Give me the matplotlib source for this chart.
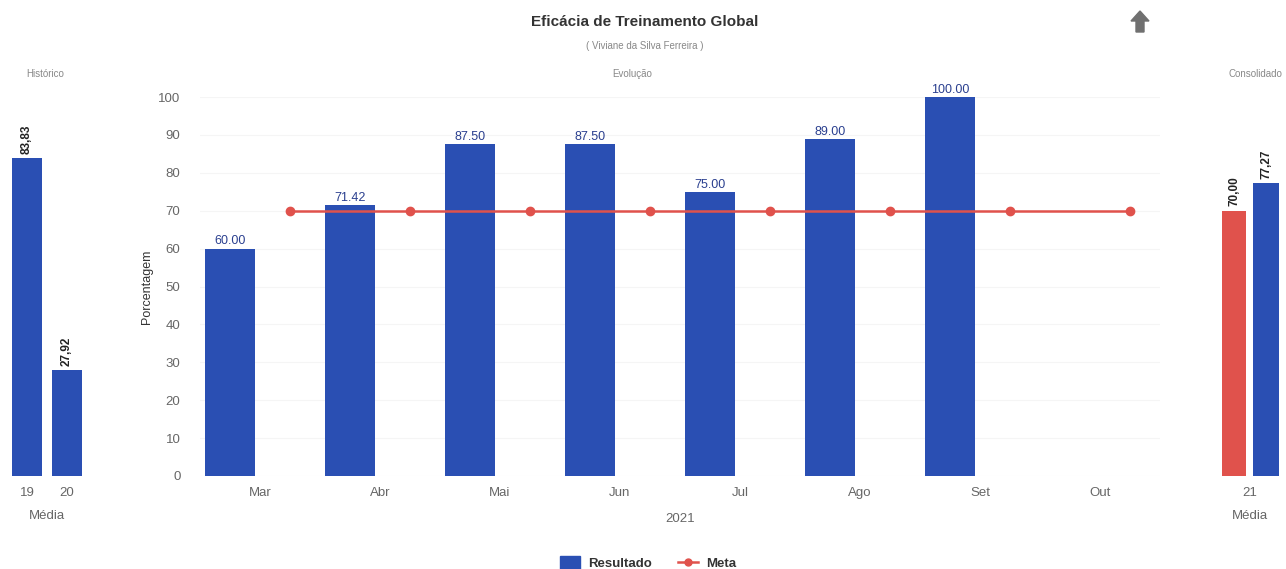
import matplotlib
matplotlib.use("Agg")
import matplotlib.pyplot as plt
import numpy as np
from matplotlib.patches import Patch, Polygon
from matplotlib.lines import Line2D

plt.rcParams['font.family'] = ['Liberation Sans', 'DejaVu Sans']

# ---- data ----
months = ["Mar", "Abr", "Mai", "Jun", "Jul", "Ago", "Set", "Out"]
resultado = [60.00, 71.42, 87.50, 87.50, 75.00, 89.00, 100.00]   # Mar..Set
meta = [70, 70, 70, 70, 70, 70, 70, 70]                          # Mar..Out
hist_years = ["19", "20"]
hist_values = [83.83, 27.92]
cons_year = ["21"]
cons_meta = [70.00]
cons_result = [77.27]

BLUE = "#2a4fb3"
RED = "#e0524c"
GRAY = "#666666"

fig = plt.figure(figsize=(12.86, 5.69), dpi=100)
W, H = 1286, 569

def ax_px(x0, x1, ytop, ybot):
    return fig.add_axes([x0 / W, (H - ybot) / H, (x1 - x0) / W, (ybot - ytop) / H])

# ---- central axis ----
ax = ax_px(200, 1160, 97, 476)
x = np.arange(len(months))
xb = x[:len(resultado)] - 0.25
ax.bar(xb, resultado, width=0.41, color=BLUE, zorder=2)
for xi, v in zip(xb, resultado):
    ax.text(xi, v + 0.3, f"{v:.2f}", ha="center", va="bottom", fontsize=9,
            color="#2a3f8f", zorder=4)
ax.plot(x + 0.25, meta, color=RED, lw=1.8, marker="o", ms=6, zorder=3)
ax.set_xlim(-0.5, 7.5)
ax.set_ylim(0, 100)
ax.set_yticks(range(0, 101, 10))
ax.set_xticks(x)
ax.set_xticklabels(months)
ax.tick_params(axis="both", length=0, labelsize=9.5, labelcolor=GRAY)
ax.tick_params(axis="y", pad=14)
ax.tick_params(axis="x", pad=8)
ax.grid(axis="y", color="#f5f5f5", lw=0.8, zorder=0)
ax.set_axisbelow(True)
for s in ax.spines.values():
    s.set_visible(False)
ax.set_ylabel("Porcentagem", fontsize=9, color="#333333", labelpad=4)
ax.set_xlabel("2021", fontsize=9.5, color=GRAY, labelpad=10)

# ---- left (Histórico) ----
axl = ax_px(10, 84, 97, 476)
xl = np.arange(len(hist_years))
axl.bar(xl, hist_values, width=0.75, color=BLUE)
for xi, v in zip(xl, hist_values):
    axl.text(xi, v + 1.2, f"{v:.2f}".replace(".", ","), rotation=90, ha="center",
             va="bottom", fontsize=8.5, fontweight="bold", color="#222222")
axl.set_xlim(-0.43, 1.43)
axl.set_ylim(0, 100)
axl.set_xticks(xl)
axl.set_xticklabels(hist_years)
axl.set_yticks([])
axl.tick_params(axis="x", length=0, labelsize=9.5, labelcolor=GRAY, pad=8)
axl.set_xlabel("Média", fontsize=9.5, color=GRAY, labelpad=8)
for s in axl.spines.values():
    s.set_visible(False)

# ---- right (Consolidado) ----
axr = ax_px(1218, 1282, 97, 476)
xr = np.arange(len(cons_year))
axr.bar(xr - 0.2, cons_meta, width=0.31, color=RED)
axr.bar(xr + 0.2, cons_result, width=0.33, color=BLUE)
for xi, v in zip(xr - 0.2, cons_meta):
    axr.text(xi, v + 1.2, f"{v:.2f}".replace(".", ","), rotation=90, ha="center",
             va="bottom", fontsize=8.5, fontweight="bold", color="#222222")
for xi, v in zip(xr + 0.2, cons_result):
    axr.text(xi, v + 1.2, f"{v:.2f}".replace(".", ","), rotation=90, ha="center",
             va="bottom", fontsize=8.5, fontweight="bold", color="#222222")
axr.set_xlim(-0.4, 0.4)
axr.set_ylim(0, 100)
axr.set_xticks(xr)
axr.set_xticklabels(cons_year)
axr.set_yticks([])
axr.tick_params(axis="x", length=0, labelsize=9.5, labelcolor=GRAY, pad=8)
axr.set_xlabel("Média", fontsize=9.5, color=GRAY, labelpad=8)
for s in axr.spines.values():
    s.set_visible(False)

# ---- titles ----
fig.text(645 / W, 1 - 22 / H, "Eficácia de Treinamento Global", ha="center", va="center",
         fontsize=11, fontweight="bold", color="#333333")
fig.text(645 / W, 1 - 46 / H, "( Viviane da Silva Ferreira )", ha="center", va="center",
         fontsize=7, color="#888888")
fig.text(632 / W, 1 - 74 / H, "Evolução", ha="center", va="center", fontsize=7, color="#888888")
fig.text(45 / W, 1 - 74 / H, "Histórico", ha="center", va="center", fontsize=7, color="#888888")
fig.text(1255 / W, 1 - 74 / H, "Consolidado", ha="center", va="center", fontsize=7, color="#888888")

# ---- arrow icon ----
ax0, ay0 = 1140, 22
pts = [(0, -11), (9, -1), (4, -1), (4, 10), (-4, 10), (-4, -1), (-9, -1)]
poly = Polygon([((ax0 + px) / W, 1 - (ay0 + py) / H) for px, py in pts],
               closed=True, transform=fig.transFigure, color="#707070")
fig.patches.append(poly)

# ---- legend ----
handles = [Patch(color=BLUE, label="Resultado"),
           Line2D([0], [0], color=RED, lw=1.8, marker="o", ms=5, label="Meta")]
leg = fig.legend(handles=handles, loc="center", bbox_to_anchor=(648 / W, 1 - 563 / H),
                 ncol=2, frameon=False, fontsize=9.5, handlelength=1.5, handleheight=1.3,
                 columnspacing=2.0, handletextpad=0.6)
for t in leg.get_texts():
    t.set_fontweight("bold")
    t.set_color("#333333")

fig.savefig("out.png", dpi=100, facecolor="white")
